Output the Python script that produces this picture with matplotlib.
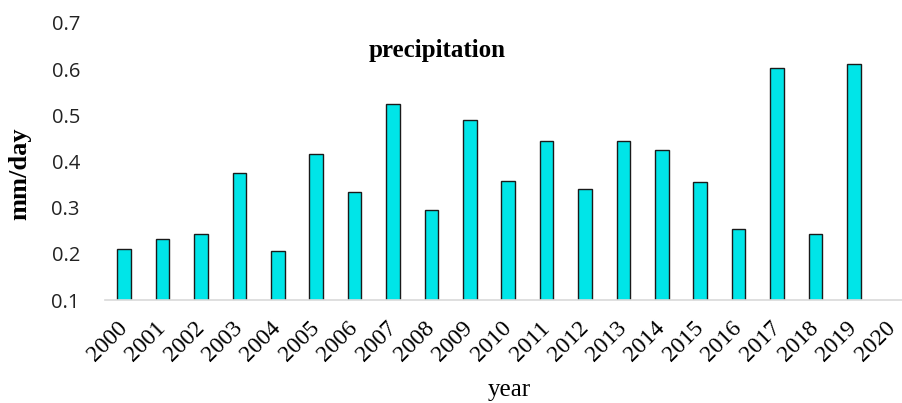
import matplotlib
matplotlib.use("Agg")
import matplotlib.pyplot as plt

years = [str(y) for y in range(2000, 2021)]
precip = [0.211, 0.233, 0.244, 0.376, 0.207, 0.417, 0.335, 0.524, 0.294, 0.489,
          0.357, 0.444, 0.341, 0.444, 0.425, 0.356, 0.254, 0.603, 0.242, 0.612]
yticks = [0.1, 0.2, 0.3, 0.4, 0.5, 0.6, 0.7]

fig = plt.figure(figsize=(9.03, 4.03), dpi=100)
ax = fig.add_axes([105 / 903, 1 - 300 / 403, 798 / 903, 277 / 403])

ax.bar(range(len(precip)), precip, width=0.35, bottom=0,
       color="#00E5E8", edgecolor="#1a1a1a", linewidth=1.0)

# category slots are ~38.4 px wide, plot runs off the right edge like the original
ax.set_xlim(-0.5, -0.5 + 798 / 38.4)
ax.set_ylim(0.1, 0.7)
ax.set_yticks(yticks)
ax.set_yticklabels([f"{v:.1f}" for v in yticks], family="Open Sans",
                   fontsize=14.5, color="#222222")
ax.set_xticks(range(len(years)))
ax.set_xticklabels(years, rotation=45, ha="right", va="center",
                   rotation_mode="anchor", family="Liberation Serif", fontsize=17)
ax.tick_params(axis="both", length=0)
ax.tick_params(axis="y", pad=18)
ax.tick_params(axis="x", pad=18)

for s in ["top", "right", "left"]:
    ax.spines[s].set_visible(False)
ax.spines["bottom"].set_color("#d9d9d9")
ax.spines["bottom"].set_linewidth(1.2)

fig.text(509 / 903, 1 - 390 / 403, "year", ha="center", va="center",
         family="Liberation Serif", fontsize=18)
fig.text(20 / 903, 1 - 174 / 403, "mm/day", rotation=90, ha="center", va="center",
         family="Liberation Serif", fontweight="bold", fontsize=19)
fig.text(437 / 903, 1 - 51 / 403, "precipitation", ha="center", va="center",
         family="Liberation Serif", fontweight="bold", fontsize=18)

fig.savefig("out.png", dpi=100)
